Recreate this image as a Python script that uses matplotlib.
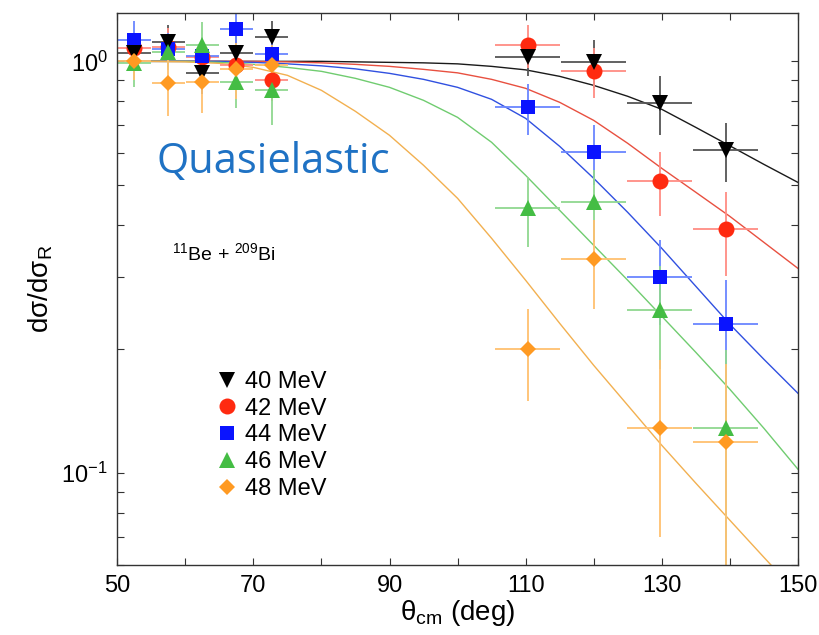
import matplotlib.pyplot as plt
from matplotlib.ticker import FixedLocator, NullFormatter

plt.rcParams['font.family'] = 'Liberation Sans'
plt.rcParams['mathtext.fontset'] = 'custom'
plt.rcParams['mathtext.rm'] = 'Liberation Sans'
plt.rcParams['mathtext.it'] = 'Liberation Sans:italic'
plt.rcParams['mathtext.default'] = 'regular'

# measured quasielastic / Rutherford ratios
theta = [52.5, 57.5, 62.5, 67.5, 72.7, 110.3, 120.0, 129.7, 139.4]
theta_err = [2.4, 2.4, 2.4, 2.4, 2.4, 4.8, 4.8, 4.8, 4.8]

labels = ['40 MeV', '42 MeV', '44 MeV', '46 MeV', '48 MeV']

ratio_40 = [1.050, 1.114, 0.935, 1.046, 1.146, 1.023, 0.994, 0.791, 0.608]
err_40 = [0.10, 0.11, 0.10, 0.12, 0.11, 0.10, 0.13, 0.13, 0.10]
ratio_42 = [1.075, 1.083, 1.023, 0.978, 0.899, 1.093, 0.946, 0.512, 0.391]
err_42 = [0.10, 0.12, 0.10, 0.10, 0.10, 0.13, 0.13, 0.09, 0.09]
ratio_44 = [1.124, 1.070, 1.028, 1.196, 1.044, 0.773, 0.601, 0.299, 0.230]
err_44 = [0.13, 0.10, 0.10, 0.12, 0.10, 0.11, 0.10, 0.07, 0.065]
ratio_46 = [0.990, 1.053, 1.093, 0.891, 0.850, 0.440, 0.455, 0.249, 0.129]
err_46 = [0.125, 0.10, 0.15, 0.12, 0.15, 0.085, 0.09, 0.07, 0.07]
ratio_48 = [1.000, 0.888, 0.889, 0.960, 0.978, 0.200, 0.331, 0.129, 0.119]
err_48 = [0.10, 0.15, 0.14, 0.15, 0.12, 0.05, 0.08, 0.059, 0.065]

# calculated curves, every 5 deg
theta_calc = [50, 55, 60, 65, 70, 75, 80, 85, 90, 95, 100,
              105, 110, 115, 120, 125, 130, 135, 140, 145, 150]
calc_40 = [1.0, 1.0, 1.0, 1.0, 1.0, 1.0, 1.0, 0.9972, 0.9944, 0.9917, 0.9861,
           0.9724, 0.9536, 0.9196, 0.8744, 0.8225, 0.7648, 0.6914, 0.6237, 0.5623, 0.5084]
calc_42 = [1.0, 1.0, 1.0, 1.0, 1.0, 0.9972, 0.9917, 0.9834, 0.9724, 0.9563, 0.9378,
           0.9043, 0.8600, 0.7953, 0.7190, 0.6324, 0.5499, 0.4810, 0.4204, 0.3636, 0.3144]
calc_44 = [1.0, 1.0, 1.0, 1.0, 0.9944, 0.9861, 0.9752, 0.9589, 0.9351, 0.9043, 0.8648,
           0.8087, 0.7271, 0.6219, 0.5200, 0.4299, 0.3516, 0.2844, 0.2300, 0.1891, 0.1564]
calc_46 = [1.0, 1.0, 1.0, 0.9944, 0.9834, 0.9670, 0.9457, 0.9093, 0.8648, 0.8042, 0.7312,
           0.6360, 0.5288, 0.4348, 0.3576, 0.2941, 0.2405, 0.1966, 0.1599, 0.1286, 0.1023]
calc_48 = [1.0, 1.0, 0.9972, 0.9889, 0.9670, 0.9248, 0.8504, 0.7561, 0.6614, 0.5593, 0.4650,
           0.3718, 0.2941, 0.2312, 0.1828, 0.1462, 0.1169, 0.0946, 0.0769, 0.0625, 0.0509]

ratios = [ratio_40, ratio_42, ratio_44, ratio_46, ratio_48]
errors = [err_40, err_42, err_44, err_46, err_48]
calcs = [calc_40, calc_42, calc_44, calc_46, calc_48]

x_major = [50, 70, 90, 110, 130, 150]
x_minor = [60, 80, 100, 120, 140]

markers = ['v', 'o', 's', '^', 'D']
msizes = [12, 11.5, 9.5, 11, 8]
colors = ['#000000', '#ff2a10', '#0a14ff', '#44bd44', '#ff9a22']
bar_colors = ['#555555', '#ff8c84', '#6a86ff', '#90d890', '#ffc070']
line_colors = ['#1a1a1a', '#e85040', '#3050e0', '#70cc70', '#f2b050']
zorders = [5, 3, 4, 6, 7]

fig, ax = plt.subplots(figsize=(8.2, 6.35), dpi=100)
fig.subplots_adjust(left=0.143, right=0.973, bottom=0.110, top=0.979)

for i in range(5):
    ax.plot(theta_calc, calcs[i], color=line_colors[i], lw=1.0, zorder=1)

for i in range(5):
    ax.errorbar(theta, ratios[i], xerr=theta_err, yerr=errors[i], fmt='none',
                ecolor=bar_colors[i], elinewidth=1.3, capsize=0, zorder=2)

for i in range(5):
    ax.plot(theta, ratios[i], ls='none', marker=markers[i], ms=msizes[i],
            color=colors[i], mew=0, label=labels[i], zorder=zorders[i])

ax.set_yscale('log')
ax.set_xlim(50, 150)
ax.set_ylim(0.0598, 1.308)

ax.xaxis.set_major_locator(FixedLocator(x_major))
ax.xaxis.set_minor_locator(FixedLocator(x_minor))
ax.yaxis.set_minor_formatter(NullFormatter())
ax.tick_params(which='both', direction='in', top=True, right=True,
               length=5, width=0.8, color='#333333')
ax.tick_params(which='major', labelsize=17, pad=7)
for s in ax.spines.values():
    s.set_color('#333333')
    s.set_linewidth(1.0)

ax.set_xlabel('θ$_{cm}$ (deg)', fontsize=20, labelpad=1)
ax.set_ylabel('dσ/dσ$_R$', fontsize=20, labelpad=4)

ax.text(0.057, 0.710, 'Quasielastic', transform=ax.transAxes, va='baseline',
        fontsize=30, color='#1f72c4', family='Open Sans')
ax.text(0.080, 0.5525, '$^{11}$Be + $^{209}$Bi', transform=ax.transAxes,
        va='baseline', fontsize=14)

ax.legend(loc='upper left', bbox_to_anchor=(0.148, 0.352), frameon=False,
          fontsize=17, handlelength=0.8, handletextpad=0.35, labelspacing=0.2,
          borderpad=0, borderaxespad=0)

fig.savefig('out.png', dpi=100)
